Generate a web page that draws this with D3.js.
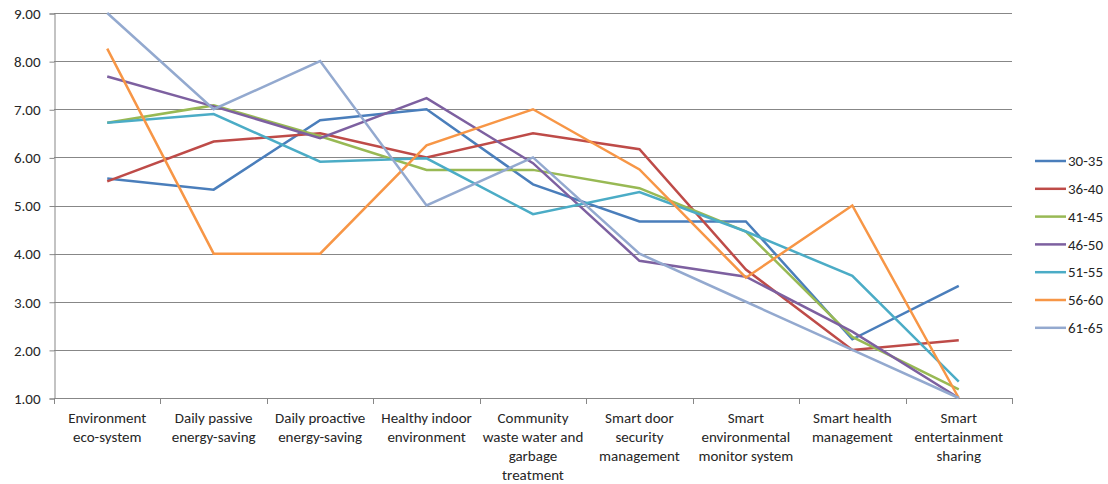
<!DOCTYPE html>
<html>
<head>
<meta charset="utf-8">
<script src="https://cdn.jsdelivr.net/npm/d3@7"></script>
<style>
  html, body { margin: 0; padding: 0; background: #fff; }
  svg text { font-family: Carlito, Lato, "Open Sans", sans-serif; fill: #262626; }
</style>
</head>
<body>
<svg id="chart" width="1108" height="484"></svg>
<script>
// Categories, each split into its display lines
const categories = [
  ["Environment", "eco-system"],
  ["Daily passive", "energy-saving"],
  ["Daily proactive", "energy-saving"],
  ["Healthy indoor", "environment"],
  ["Community", "waste water and", "garbage", "treatment"],
  ["Smart door", "security", "management"],
  ["Smart", "environmental", "monitor system"],
  ["Smart health", "management"],
  ["Smart", "entertainment", "sharing"]
];

const seriesNames = ["30-35", "36-40", "41-45", "46-50", "51-55", "56-60", "61-65"];
const seriesColors = ["#4a7ebb", "#be4b48", "#98b954", "#7d60a0", "#4bacc6", "#f79646", "#93a9cf"];

const age30_35 = [5.56, 5.33, 6.77, 7.00, 5.44, 4.67, 4.67, 2.22, 3.33];
const age36_40 = [5.50, 6.33, 6.50, 6.00, 6.50, 6.17, 3.67, 2.00, 2.20];
const age41_45 = [6.72, 7.08, 6.44, 5.74, 5.74, 5.36, 4.46, 2.27, 1.18];
const age46_50 = [7.68, 7.06, 6.40, 7.23, 5.88, 3.85, 3.52, 2.38, 1.00];
const age51_55 = [6.72, 6.90, 5.91, 5.98, 4.82, 5.28, 4.46, 3.54, 1.34];
const age56_60 = [8.26, 4.00, 4.00, 6.25, 7.00, 5.75, 3.50, 5.00, 1.00];
const age61_65 = [9.00, 7.00, 8.00, 5.00, 6.00, 4.00, 3.00, 2.00, 1.00];

const seriesValues = [age30_35, age36_40, age41_45, age46_50, age51_55, age56_60, age61_65];

const yTicks = [1, 2, 3, 4, 5, 6, 7, 8, 9];

const svg = d3.select("#chart");
const margin = { left: 54, right: 96, top: 13, bottom: 86 };
const width = 1108, height = 484;
const plotL = margin.left, plotR = width - margin.right;
const plotT = margin.top, plotB = height - margin.bottom;
const fontSize = 15;

const x = d3.scaleBand()
  .domain(d3.range(categories.length))
  .range([plotL, plotR])
  .paddingInner(0).paddingOuter(0);

const y = d3.scaleLinear().domain([1, 9]).range([plotB, plotT]);

const gridColor = "#878787";

// Horizontal gridlines
svg.append("g")
  .selectAll("line")
  .data(yTicks)
  .join("line")
  .attr("x1", plotL).attr("x2", plotR)
  .attr("y1", d => Math.round(y(d)) + 0.5).attr("y2", d => Math.round(y(d)) + 0.5)
  .attr("stroke", gridColor).attr("stroke-width", 1);

// Y axis
const yAxis = d3.axisLeft(y).tickValues(yTicks).tickFormat(d3.format(".2f")).tickSize(5).tickPadding(9);
const gy = svg.append("g").attr("transform", `translate(${plotL + 0.5},0.5)`).call(yAxis);
gy.select(".domain").attr("stroke", gridColor);
gy.selectAll(".tick line").attr("stroke", gridColor);
gy.selectAll(".tick text").attr("font-size", fontSize).attr("font-family", null).attr("fill", "#262626");

// X axis: baseline and tick marks at category boundaries
const boundaries = d3.range(categories.length + 1).map(i => i < categories.length ? x(i) : x(categories.length - 1) + x.bandwidth());
svg.append("line")
  .attr("x1", plotL).attr("x2", plotR)
  .attr("y1", Math.round(y(1)) + 0.5).attr("y2", Math.round(y(1)) + 0.5)
  .attr("stroke", gridColor);
svg.append("g").selectAll("line")
  .data(boundaries)
  .join("line")
  .attr("x1", d => Math.round(d) + 0.5).attr("x2", d => Math.round(d) + 0.5)
  .attr("y1", Math.round(y(1))).attr("y2", Math.round(y(1)) + 6)
  .attr("stroke", gridColor);

// Category labels
const labels = svg.append("g").selectAll("text")
  .data(categories)
  .join("text")
  .attr("text-anchor", "middle")
  .attr("font-size", fontSize)
  .attr("x", (d, i) => x(i) + x.bandwidth() / 2)
  .attr("y", plotB + 25);
labels.selectAll("tspan")
  .data(d => d)
  .join("tspan")
  .attr("x", function () { return this.parentNode.getAttribute("x"); })
  .attr("dy", (d, i) => i === 0 ? 0 : 19)
  .text(d => d);

// Series lines
const line = d3.line()
  .x((d, i) => x(i) + x.bandwidth() / 2)
  .y(d => y(d));

svg.append("g").selectAll("path")
  .data(seriesValues)
  .join("path")
  .attr("d", d => line(d))
  .attr("fill", "none")
  .attr("stroke", (d, i) => seriesColors[i])
  .attr("stroke-width", 2.5)
  .attr("stroke-linejoin", "miter");

// Legend
const legend = svg.append("g").attr("transform", "translate(1035,161)");
const items = legend.selectAll("g")
  .data(seriesNames)
  .join("g")
  .attr("transform", (d, i) => `translate(0,${i * 27.8})`);
items.append("line")
  .attr("x1", 0).attr("x2", 31).attr("y1", 0).attr("y2", 0)
  .attr("stroke", (d, i) => seriesColors[i]).attr("stroke-width", 2.5);
items.append("text")
  .attr("x", 33).attr("y", 0).attr("dy", "0.35em")
  .attr("font-size", fontSize)
  .text(d => d);
</script>
</body>
</html>
